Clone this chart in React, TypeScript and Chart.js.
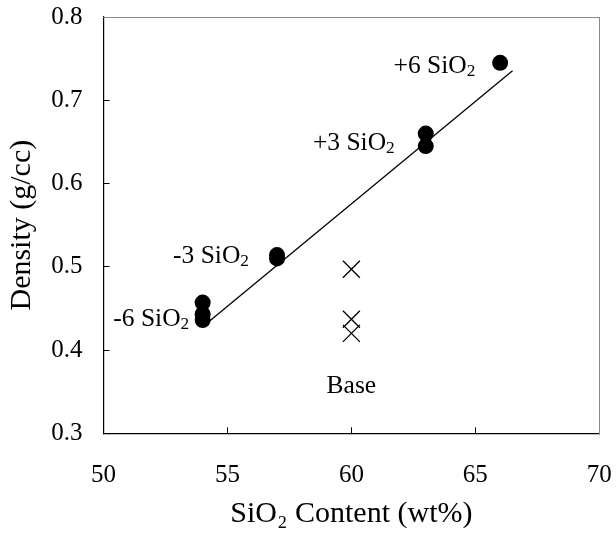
import { useEffect, useRef } from "react";
import { Chart, registerables } from "chart.js";

Chart.register(...registerables);

const FONT = "'Liberation Serif', 'Times New Roman', serif";

// Axis ticks
const xTicks = [50, 55, 60, 65, 70];
const yTicks = [0.3, 0.4, 0.5, 0.6, 0.7, 0.8];

// Modified compositions (filled circles)
const modSiO2 = [54, 54, 54, 57, 57, 63, 63, 66];
const modDensity = [0.457, 0.443, 0.436, 0.514, 0.51, 0.66, 0.645, 0.745];

// Base composition (crosses)
const baseSiO2 = [60, 60, 60];
const baseDensity = [0.497, 0.437, 0.42];

// Fitted trend line
const fitSiO2 = [54, 66.5];
const fitDensity = [0.428, 0.7355];

// Point labels (right-aligned, with subscript 2)
const labelTexts = ["+6 SiO", "+3 SiO", "-3 SiO", "-6 SiO"];
const labelSiO2 = [65.0, 61.75, 55.87, 53.46];
const labelDensity = [0.741, 0.6487, 0.513, 0.4373];

const baseLabel = "Base";
const baseLabelSiO2 = 60;
const baseLabelDensity = 0.3568;

const labelPlugin = {
  id: "subLabels",
  afterDatasetsDraw(chart: any) {
    const { ctx } = chart;
    const x = chart.scales.x;
    const y = chart.scales.y;
    const size = 25.5;
    const mainFont = `${size}px ${FONT}`;
    const subFont = `${size * 0.68}px ${FONT}`;
    ctx.save();
    ctx.fillStyle = "#000";
    ctx.textBaseline = "middle";
    ctx.textAlign = "left";
    labelTexts.forEach((t, i) => {
      const px = x.getPixelForValue(labelSiO2[i]);
      const py = y.getPixelForValue(labelDensity[i]);
      ctx.font = mainFont;
      const w1 = ctx.measureText(t).width;
      ctx.font = subFont;
      const w2 = ctx.measureText("2").width;
      const left = px - w1 - w2;
      ctx.font = mainFont;
      ctx.fillText(t, left, py);
      ctx.font = subFont;
      ctx.fillText("2", left + w1, py + size * 0.22);
    });
    ctx.font = mainFont;
    ctx.textAlign = "center";
    ctx.fillText(
      baseLabel,
      x.getPixelForValue(baseLabelSiO2),
      y.getPixelForValue(baseLabelDensity)
    );
    ctx.restore();
  },
};

const zeroPad = (s: any) => {
  s.paddingLeft = 0;
  s.paddingRight = 0;
  s.paddingTop = 0;
  s.paddingBottom = 0;
};

export default function App() {
  const ref = useRef<HTMLCanvasElement | null>(null);

  useEffect(() => {
    if (!ref.current) return;
    const chart = new Chart(ref.current, {
      type: "scatter",
      data: {
        datasets: [
          {
            type: "line",
            data: fitSiO2.map((v, i) => ({ x: v, y: fitDensity[i] })),
            borderColor: "#000",
            borderWidth: 1.3,
            pointRadius: 0,
            fill: false,
            order: 3,
          } as any,
          {
            data: baseSiO2.map((v, i) => ({ x: v, y: baseDensity[i] })),
            pointStyle: "crossRot",
            pointRadius: 12,
            borderColor: "#000",
            borderWidth: 1.3,
            backgroundColor: "#000",
            order: 2,
          },
          {
            data: modSiO2.map((v, i) => ({ x: v, y: modDensity[i] })),
            pointStyle: "circle",
            pointRadius: 8,
            borderWidth: 0,
            backgroundColor: "#000",
            borderColor: "#000",
            order: 1,
          },
        ],
      },
      options: {
        animation: false,
        responsive: true,
        maintainAspectRatio: false,
        devicePixelRatio: 1,
        layout: { padding: 0, autoPadding: false },
        plugins: {
          legend: { display: false },
          tooltip: { enabled: false },
        },
        scales: {
          x: {
            type: "linear",
            position: "bottom",
            min: 50,
            max: 70,
            afterBuildTicks: (s: any) => {
              s.ticks = xTicks.map((v) => ({ value: v }));
            },
            afterFit: (s: any) => {
              s.height = 536 - 433.3;
              zeroPad(s);
            },
            grid: {
              display: true,
              drawOnChartArea: false,
              drawTicks: true,
              tickLength: -6,
              color: "#000",
              lineWidth: 1,
            },
            border: { display: true, color: "#000", width: 1.2 },
            ticks: {
              color: "#000",
              font: { family: FONT, size: 25 },
              padding: 33,
              maxRotation: 0,
              autoSkip: false,
              callback: (v: any) => String(v),
            },
            title: {
              display: true,
              text: "SiO₂ Content (wt%)",
              color: "#000",
              font: { family: FONT, size: 30 },
              padding: { top: 0, bottom: 4 },
            },
          },
          y: {
            type: "linear",
            position: "left",
            min: 0.3,
            max: 0.8,
            afterBuildTicks: (s: any) => {
              s.ticks = yTicks.map((v) => ({ value: v }));
            },
            afterFit: (s: any) => {
              s.width = 103.5;
              zeroPad(s);
            },
            grid: {
              display: true,
              drawOnChartArea: false,
              drawTicks: true,
              tickLength: -6,
              color: "#000",
              lineWidth: 1,
            },
            border: { display: true, color: "#000", width: 1.2 },
            ticks: {
              color: "#000",
              font: { family: FONT, size: 25 },
              padding: 27,
              autoSkip: false,
              callback: (v: any) => Number(v).toFixed(1),
            },
            title: {
              display: true,
              text: "Density (g/cc)",
              color: "#000",
              font: { family: FONT, size: 30 },
              padding: { top: 4, bottom: 0 },
            },
          },
          x2: {
            type: "linear",
            position: "top",
            min: 50,
            max: 70,
            grid: { display: false },
            ticks: { display: false },
            border: { display: true, color: "#8a8a8a", width: 1 },
            afterFit: (s: any) => {
              s.height = 17;
              zeroPad(s);
            },
          },
          y2: {
            type: "linear",
            position: "right",
            min: 0.3,
            max: 0.8,
            grid: { display: false },
            ticks: { display: false },
            border: { display: true, color: "#8a8a8a", width: 1 },
            afterFit: (s: any) => {
              s.width = 616 - 599.3;
              zeroPad(s);
            },
          },
        },
      } as any,
      plugins: [labelPlugin],
    });
    return () => chart.destroy();
  }, []);

  return (
    <div style={{ position: "absolute", left: 0, top: 0, width: 616, height: 536 }}>
      <canvas ref={ref} />
    </div>
  );
}
